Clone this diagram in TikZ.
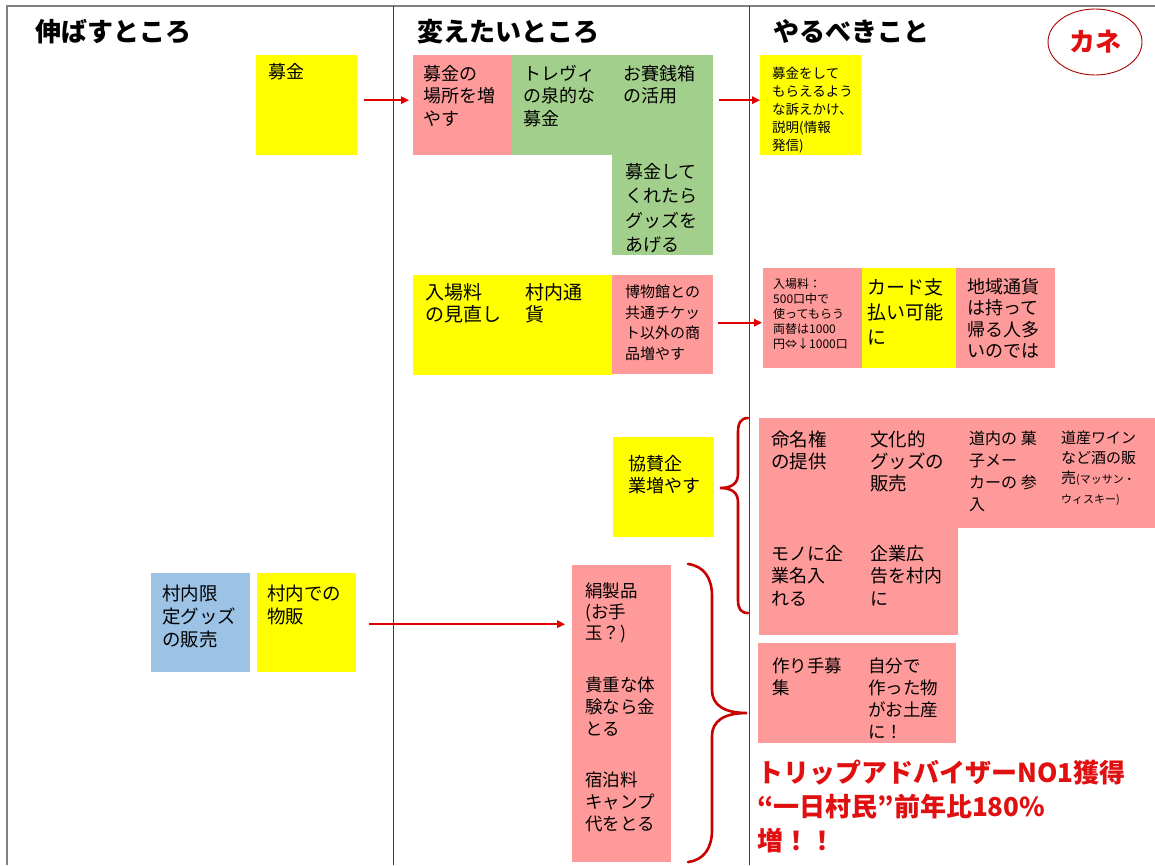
\documentclass[tikz,border=0pt]{standalone}
\usepackage{fontspec}
\setmainfont{Noto Sans CJK JP}
\usetikzlibrary{arrows.meta,shapes.geometric}
\newcommand\fsz[2]{\fontsize{#1pt}{#2pt}\selectfont}
\definecolor{cYel}{HTML}{FFFF00}
\definecolor{cPink}{HTML}{FF9A9A}
\definecolor{cGreen}{HTML}{A3CF8C}
\definecolor{cBlue}{HTML}{9CC2E5}
\definecolor{cArr}{HTML}{E00000}
\definecolor{cBrace}{HTML}{C80000}
\definecolor{cRedTxt}{HTML}{E01010}
\definecolor{cFrame}{HTML}{808080}
\definecolor{cDiv}{HTML}{404040}
\tikzset{
  card/.style={anchor=north west, inner sep=0pt, minimum width=100.5pt, minimum height=100pt, draw=none},
  tx/.style={anchor=north west, inner sep=0pt, align=left, text=black, font=\fsz{18}{22.5}},
  head/.style={anchor=north west, inner sep=0pt, font=\fsz{26}{30}\bfseries},
  redarr/.style={draw=cArr, line width=1.6pt, -{Triangle[length=8pt,width=7.5pt]}},
  redbrace/.style={draw=cBrace, line width=2.6pt, line cap=round},
}
\begin{document}
\begin{tikzpicture}[x=1pt,y=-1pt]
\useasboundingbox (0,0) rectangle (1155,865);
\fill[white] (0,0) rectangle (1155,865);
% frame
\draw[cFrame, line width=1.5pt] (7,865) -- (7,6) -- (1155,6);
\draw[cDiv, line width=1pt] (393,6) -- (393,865);
\draw[cDiv, line width=1pt] (749,6) -- (749,865);
% headers
\node[head] (h1) at (35,19) {伸ばすところ};
\node[head] (h2) at (417,19) {変えたいところ};
\node[head] (h3) at (773,19) {やるべきこと};
\node[ellipse, draw=cBrace!85!black, line width=0.9pt, minimum width=94pt, minimum height=66pt, inner sep=0pt, text=cRedTxt, font=\fsz{26}{30}\bfseries] (kane) at (1095,42) {カネ};
% row 1
\node[card, fill=cYel] (bokinL) at (256,55) {};
\node[tx] (bokinL-t) at (268,63) {募金};
\node[card, fill=cPink, minimum width=99.5pt] (p1) at (413,55) {};
\node[tx] (p1-t) at (423,65) {募金の\\場所を増\\やす};
\node[card, fill=cGreen] (g1) at (512,55) {};
\node[tx] (g1-t) at (523,65) {トレヴィ\\の泉的な\\募金};
\node[card, fill=cGreen] (g2) at (612,55) {};
\node[tx] (g2-t) at (623,65) {お賽銭箱\\の活用};
\node[card, fill=cGreen] (g3) at (612,154.5) {};
\node[tx, font=\fsz{18}{24.5}] (g3-t) at (625,163) {募金して\\くれたら\\グッズを\\あげる};
\node[card, fill=cYel] (yr1) at (760,55) {};
\node[tx, font=\fsz{13.5}{18}] (yr1-t) at (772,67) {募金をして\\もらえるよう\\な訴えかけ、\\説明(情報\\発信)};
% row 2
\node[card, fill=cYel] (ym2a) at (413,275) {};
\node[tx, font=\fsz{19}{22.5}] (ym2a-t) at (425,283) {入場料\\の見直し};
\node[card, fill=cYel] (ym2b) at (512.5,275) {};
\node[tx, font=\fsz{19}{22.5}] (ym2b-t) at (525,283) {村内通\\貨};
\node[card, fill=cPink, minimum width=101pt, minimum height=99pt] (pm2c) at (612,275) {};
\node[tx, font=\fsz{15}{20.5}] (pm2c-t) at (625,285) {博物館との\\共通チケッ\\ト以外の商\\品増やす};
\node[card, fill=cPink, minimum width=99.5pt] (pr2a) at (763,268) {};
\node[tx, font=\fsz{12}{15}] (pr2a-t) at (773,278) {入場料：\\500口中で\\使ってもらう\\両替は1000\\円⇔↓1000口};
\node[card, fill=cYel, minimum width=94.5pt] (yr2b) at (862,268) {};
\node[tx, font=\fsz{19}{25}] (yr2b-t) at (867,278) {カード支\\払い可能\\に};
\node[card, fill=cPink, minimum width=99pt] (pr2c) at (956,268) {};
\node[tx, font=\fsz{18}{21.5}] (pr2c-t) at (967,278) {地域通貨\\は持って\\帰る人多\\いのでは};
% row 3
\node[card, fill=cYel] (ym3) at (613,437) {};
\node[tx] (ym3-t) at (628,455) {協賛企\\業増やす};
\node[card, fill=cPink, minimum height=109.5pt] (pr3a) at (759,418) {};
\node[tx, font=\fsz{18.5}{22}] (pr3a-t) at (771,431) {命名権\\の提供};
\node[card, fill=cPink, minimum height=109.5pt] (pr3b) at (858.5,418) {};
\node[tx, font=\fsz{18.5}{22}] (pr3b-t) at (870,431) {文化的\\グッズの\\販売};
\node[card, fill=cPink, minimum height=109.5pt] (pr3c) at (958,418) {};
\node[tx, font=\fsz{16}{22}] (pr3c-t) at (969,431) {道内の 菓\\子メー\\カーの 参\\入};
\node[card, fill=cPink, minimum width=98pt, minimum height=109.5pt] (pr3d) at (1057,418) {};
\node[tx, font=\fsz{15}{20}] (pr3d-t) at (1061,431) {道産ワイン\\など酒の販\\売{\fsz{11}{20}(マッサン・}\\{\fsz{11}{20}ウィスキー)}};
\node[card, fill=cPink, minimum height=108pt] (pr3e) at (759,527) {};
\node[tx] (pr3e-t) at (771,545) {モノに企\\業名入\\れる};
\node[card, fill=cPink, minimum height=108pt, minimum width=99.5pt] (pr3f) at (858.5,527) {};
\node[tx] (pr3f-t) at (870,545) {企業広\\告を村内\\に};
% row 4
\node[card, fill=cBlue, minimum width=99pt, minimum height=99pt] (bl4) at (151,573) {};
\node[tx, font=\fsz{18.5}{23}] (bl4-t) at (162,585) {村内限\\定グッズ\\の販売};
\node[card, fill=cYel, minimum width=99pt, minimum height=99pt] (yl4) at (257,573) {};
\node[tx, font=\fsz{18.5}{23}] (yl4-t) at (267,585) {村内での\\物販};
\node[card, fill=cPink, minimum width=99pt, minimum height=95.5pt] (pm4a) at (572,565) {};
\node[tx, font=\fsz{17.5}{21}] (pm4a-t) at (585,583) {絹製品\\(お手\\玉？)};
\node[card, fill=cPink, minimum width=99pt, minimum height=100.5pt] (pm4b) at (572,660) {};
\node[tx, font=\fsz{17.5}{22}] (pm4b-t) at (585,677) {貴重な体\\験なら金\\とる};
\node[card, fill=cPink, minimum width=99pt, minimum height=102pt] (pm4c) at (572,760) {};
\node[tx, font=\fsz{17.5}{22}] (pm4c-t) at (585,772) {宿泊料\\キャンプ\\代をとる};
\node[card, fill=cPink, minimum width=99.5pt] (pr4a) at (758,643) {};
\node[tx, font=\fsz{17.5}{22}] (pr4a-t) at (772,658) {作り手募\\集};
\node[card, fill=cPink, minimum width=99pt] (pr4b) at (857,643) {};
\node[tx, font=\fsz{17.5}{22}] (pr4b-t) at (868,658) {自分で\\作った物\\がお土産\\に！};
% red statement
\node[anchor=north west, inner sep=0pt, align=left, text=cRedTxt, font=\fsz{26}{34}\bfseries] (news) at (757,760) {トリップアドバイザーNO1獲得\\“一日村民”前年比180\%\\増！！};
% arrows
\draw[redarr] ([shift={(7,-5)}]bokinL.east) -- ([shift={(-4,-5)}]p1.west);
\draw[redarr] ([shift={(6,-5)}]g2.east) -- ([shift={(0,-5)}]yr1.west);
\coordinate (a3e) at (pm2c.east -| pr2a.west);
\draw[redarr] ([shift={(5,-2)}]pm2c.east) -- ([shift={(-1,-2)}]a3e);
\coordinate (a4e) at (yl4.east -| pm4a.west);
\draw[redarr] ([shift={(13,1.5)}]yl4.east) -- ([shift={(-7,1.5)}]a4e);
% braces
\draw[redbrace] (748,418) .. controls (741,418) and (738,423) .. (738,432) -- (738,474) .. controls (738,484) and (731,488) .. (720,488) .. controls (731,488) and (738,492) .. (738,502) -- (738,600) .. controls (738,609) and (741,613) .. (748,613);
\draw[redbrace] (688,564) .. controls (704,566) and (712,578) .. (712,596) -- (712,690) .. controls (712,705) and (724,713) .. (747,713) .. controls (724,713) and (712,721) .. (712,736) -- (712,830) .. controls (712,848) and (704,860) .. (688,862);
\end{tikzpicture}
\end{document}
